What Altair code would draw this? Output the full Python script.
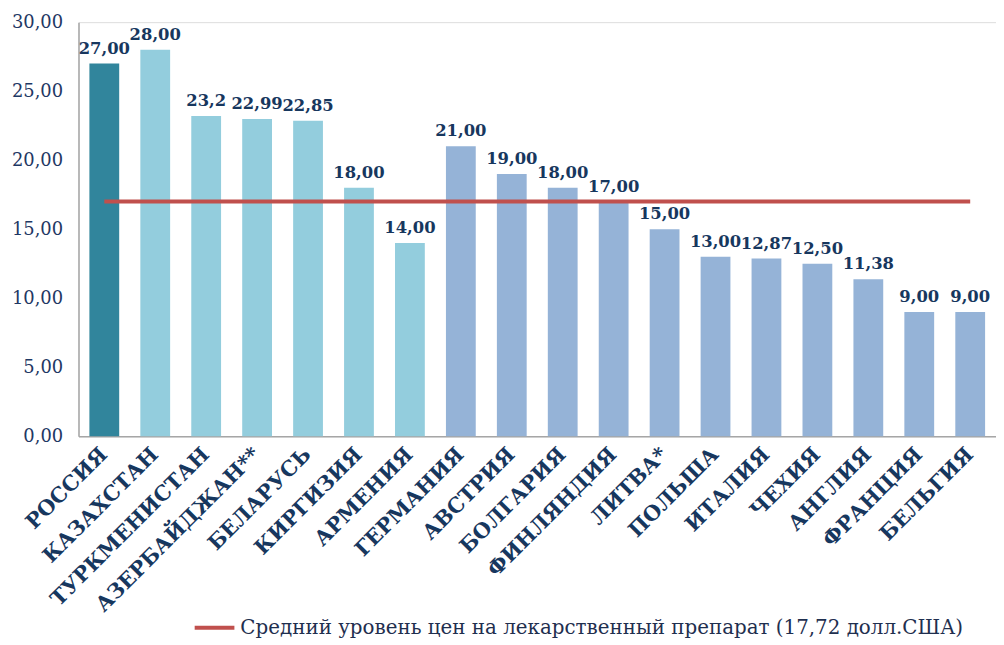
import altair as alt
import pandas as pd

countries = ["РОССИЯ", "КАЗАХСТАН", "ТУРКМЕНИСТАН", "АЗЕРБАЙДЖАН**", "БЕЛАРУСЬ",
             "КИРГИЗИЯ", "АРМЕНИЯ", "ГЕРМАНИЯ", "АВСТРИЯ", "БОЛГАРИЯ", "ФИНЛЯНДИЯ",
             "ЛИТВА*", "ПОЛЬША", "ИТАЛИЯ", "ЧЕХИЯ", "АНГЛИЯ", "ФРАНЦИЯ", "БЕЛЬГИЯ"]
values = [27.00, 28.00, 23.2, 22.99, 22.85, 18.00, 14.00, 21.00, 19.00, 18.00, 17.00,
          15.00, 13.00, 12.87, 12.50, 11.38, 9.00, 9.00]
labels = ["27,00", "28,00", "23,2", "22,99", "22,85", "18,00", "14,00", "21,00", "19,00",
          "18,00", "17,00", "15,00", "13,00", "12,87", "12,50", "11,38", "9,00", "9,00"]
groups = ["Россия"] + ["СНГ"] * 6 + ["Европа"] * 11
group_names = ["Россия", "СНГ", "Европа"]
group_colors = ["#31859c", "#93cddd", "#95b3d7"]

avg_value = 17.0
avg_label = "Средний уровень цен на лекарственный препарат (17,72 долл.США)"

df = pd.DataFrame({"country": countries, "value": values, "label": labels, "group": groups})
avg_df = pd.DataFrame({"start": [countries[0]], "end": [countries[-1]], "value": [avg_value],
                       "name": [avg_label]})

SERIF = "DejaVu Serif"
NAVY = "#1f3864"

xscale = alt.Scale(domain=countries, paddingInner=0.415, paddingOuter=0.214)

x = alt.X("country:N", title=None, scale=xscale,
          axis=alt.Axis(labelAngle=315, labelFont=SERIF, labelFontSize=21, labelFontWeight="bold",
                        labelColor="#17375e", labelAlign="right", labelBaseline="middle",
                        labelPadding=15, ticks=False, domainColor="#a6a6a6", domainWidth=1.5,
                        labelLimit=300))
y = alt.Y("value:Q", title=None,
          scale=alt.Scale(domain=[0, 30], nice=False),
          axis=alt.Axis(values=[0, 5, 10, 15, 20, 25, 30], grid=False, ticks=False,
                        labelExpr="replace(format(datum.value, '.2f'), '.', ',')",
                        labelFont=SERIF, labelFontSize=18, labelColor=NAVY, labelPadding=16,
                        domainColor="#a6a6a6", domainWidth=1.5))

bars = alt.Chart(df).mark_bar().encode(
    x=x, y=y,
    fill=alt.Fill("group:N", scale=alt.Scale(domain=group_names, range=group_colors), legend=None),
)

text = alt.Chart(df).mark_text(baseline="alphabetic", dy=-10, font=SERIF, fontSize=16.5,
                               fontWeight="bold", color="#17375e").encode(
    x=alt.X("country:N", scale=xscale), y="value:Q", text="label:N")

rule = alt.Chart(avg_df).mark_rule(strokeWidth=4).encode(
    x=alt.X("start:N", scale=xscale), x2="end:N", y="value:Q",
    stroke=alt.Stroke("name:N", scale=alt.Scale(range=["#c0504d"]),
                      legend=alt.Legend(title=None, orient="none", legendX=115, legendY=588,
                                        symbolType="stroke", symbolSize=1600, symbolStrokeWidth=4,
                                        labelFont=SERIF, labelFontSize=20, labelColor="#1f2f4f",
                                        labelLimit=0)),
)

chart = alt.layer(bars, rule, text).properties(
    width=924, height=417,
    autosize=alt.AutoSizeParams(type="none"),
    padding={"left": 71, "top": 12, "right": 0, "bottom": 206},
).configure_view(stroke="transparent").configure(background="white")

chart.save("out.html", embed_options={"renderer": "svg", "actions": False})
